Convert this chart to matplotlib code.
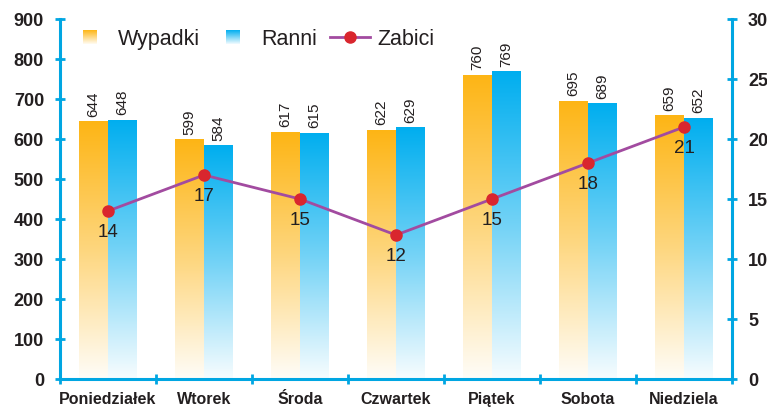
import numpy as np
import matplotlib
matplotlib.use("Agg")
import matplotlib.pyplot as plt
from matplotlib.colors import LinearSegmentedColormap, to_rgb
from matplotlib.legend_handler import HandlerBase
from matplotlib.patches import Rectangle
from matplotlib.lines import Line2D

categories = ["Poniedziałek", "Wtorek", "Środa", "Czwartek", "Piątek", "Sobota", "Niedziela"]
wypadki = [644, 599, 617, 622, 760, 695, 659]
ranni = [648, 584, 615, 629, 769, 689, 652]
zabici = [14, 17, 15, 12, 15, 18, 21]
left_ticks = [0, 100, 200, 300, 400, 500, 600, 700, 800, 900]
right_ticks = [0, 5, 10, 15, 20, 25, 30]

ORANGE = "#FDB515"
BLUE = "#00AEEF"
AXIS = "#00A6E2"
LINE = "#A24BA0"
DOT = "#D9262E"
TEXT = "#231F20"

plt.rcParams['font.family'] = ['Liberation Sans', 'DejaVu Sans']

fig = plt.figure(figsize=(7.67, 4.09), dpi=100)
ax = fig.add_axes([0.0782, 0.0733, 0.9544 - 0.0782, 0.9535 - 0.0733])
ax2 = ax.twinx()

x = np.arange(len(categories))
w = 0.3

def cmap_for(c):
    rgb = np.array(to_rgb(c))
    low = 1 - (1 - rgb) * 0.03
    return LinearSegmentedColormap.from_list("g", [tuple(low), tuple(1 - (1 - rgb) * 0.55), tuple(rgb)])

grad = np.linspace(0, 1, 256).reshape(-1, 1)

def gradient_bars(xs, vals, color):
    bars = ax.bar(xs, vals, w, color="none", edgecolor="none")
    cm = cmap_for(color)
    for b in bars:
        x0, y0 = b.get_x(), b.get_y()
        im = ax.imshow(grad, extent=[x0, x0 + b.get_width(), y0, y0 + b.get_height()],
                       origin="lower", aspect="auto", cmap=cm, zorder=2, interpolation="bilinear")
        im.set_clip_path(b)
    return bars

b1 = gradient_bars(x - w / 2, wypadki, ORANGE)
b2 = gradient_bars(x + w / 2, ranni, BLUE)

for xs, vals in ((x - w / 2, wypadki), (x + w / 2, ranni)):
    for xi, v in zip(xs, vals):
        ax.annotate(str(v), (xi, v), xytext=(0, 3.5), textcoords="offset points",
                    rotation=90, ha="center", va="bottom", fontsize=11, color=TEXT)

ax.set_xlim(-0.5, len(categories) - 0.5)
ax.set_ylim(0, 900)
ax2.set_ylim(0, 30)

ax2.plot(x, zabici, color=LINE, lw=2, marker="o", ms=8, mfc=DOT, mec=DOT, zorder=5)
for xi, v in zip(x, zabici):
    ax2.annotate(str(v), (xi, v), xytext=(0, -9), textcoords="offset points",
                 ha="center", va="top", fontsize=13.5, color=TEXT)

ax.set_yticks(left_ticks)
ax2.set_yticks(right_ticks)
ax.set_xticks(x)
ax.set_xticklabels(categories)
ax.set_xticks(np.arange(len(categories) + 1) - 0.5, minor=True)

for a in (ax, ax2):
    for s in a.spines.values():
        s.set_visible(False)
ax.spines["left"].set_visible(True)
ax.spines["bottom"].set_visible(True)
ax2.spines["right"].set_visible(True)
for s in (ax.spines["left"], ax.spines["bottom"], ax2.spines["right"]):
    s.set_color(AXIS)
    s.set_linewidth(2.2)

ax.tick_params(axis="y", direction="inout", length=7, width=2, color=AXIS,
               labelsize=13, labelcolor=TEXT, pad=8)
ax2.tick_params(axis="y", direction="inout", length=7, width=2, color=AXIS,
                labelsize=13, labelcolor=TEXT, pad=8)
ax.tick_params(axis="x", which="major", length=0, labelsize=11.5, labelcolor=TEXT, pad=9.5)
ax.tick_params(axis="x", which="minor", direction="inout", length=7, width=2, color=AXIS)
for lab in ax.get_yticklabels() + ax2.get_yticklabels():
    lab.set_fontweight("bold")
for lab in ax.get_xticklabels():
    lab.set_fontweight("bold")

class GradHandler(HandlerBase):
    def __init__(self, color):
        super().__init__()
        self.color = color
    def create_artists(self, legend, orig, xd, yd, width, height, fontsize, trans):
        rgb = np.array(to_rgb(self.color))
        n = 14
        arts = []
        s = height * 0.9
        x0 = xd + (width - s) / 2
        y0 = yd - (s - height) / 2
        for i in range(n):
            t = (i + 0.5) / n
            c = 1 - (1 - rgb) * (0.05 + 0.95 * t)
            r = Rectangle((x0, y0 + s * i / n), s, s / n + 0.05, facecolor=tuple(c),
                          edgecolor="none", transform=trans)
            arts.append(r)
        return arts

h1 = Rectangle((0, 0), 1, 1)
h2 = Rectangle((0, 0), 1, 1)
h3 = Line2D([0], [0], color=LINE, lw=2, marker="o", ms=8, mfc=DOT, mec=DOT)
ax2.legend([h1, h2, h3], ["Wypadki", "Ranni", "Zabici"],
           handler_map={h1: GradHandler(ORANGE), h2: GradHandler(BLUE)},
           loc="center left", bbox_to_anchor=(0.0149, 0.944), ncol=3, frameon=False,
           fontsize=15.5, handlelength=1.86, handletextpad=0.37, columnspacing=0.6,
           borderpad=0, borderaxespad=0, labelcolor=TEXT)

fig.savefig("out.png", dpi=100)
